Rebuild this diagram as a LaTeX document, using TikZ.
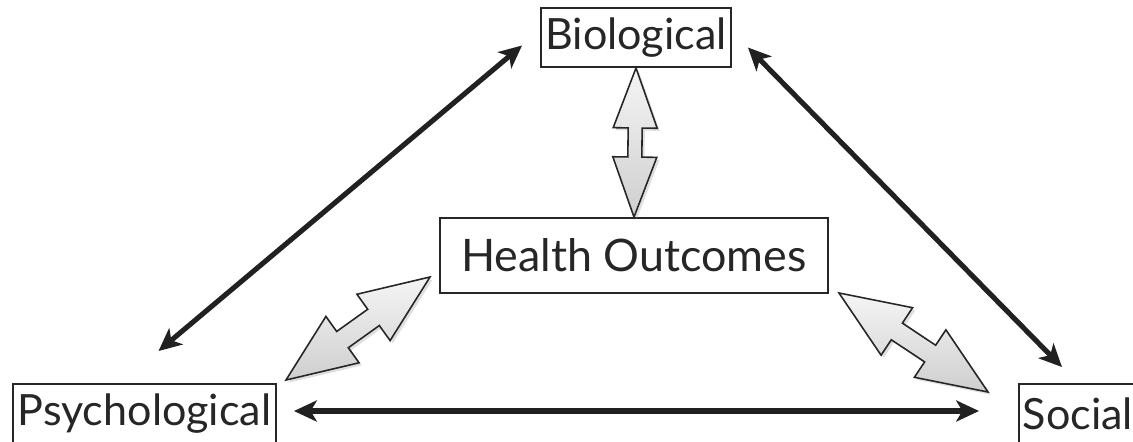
\documentclass[tikz,border=0pt]{standalone}
\usepackage{fontspec}
\setmainfont{Lato}
\usetikzlibrary{arrows.meta,calc,shadows}

% double headed block arrow from #1 to #2
% #3 = half width of head, #4 = head length, #5 = half width of shaft
\newcommand{\blockarrow}[5]{%
\draw [blockarr] (#1)
  -- ($(#1)!#4!(#2)!#3!90:(#2)$) -- ($(#1)!#4!(#2)!#5!90:(#2)$)
  -- ($(#2)!#4!(#1)!#5!-90:(#1)$) -- ($(#2)!#4!(#1)!#3!-90:(#1)$)
  -- (#2)
  -- ($(#2)!#4!(#1)!#3!90:(#1)$) -- ($(#2)!#4!(#1)!#5!90:(#1)$)
  -- ($(#1)!#4!(#2)!#5!-90:(#2)$) -- ($(#1)!#4!(#2)!#3!-90:(#2)$)
  -- cycle;}

\begin{document}
\begin{tikzpicture}[
  box/.style={draw=black!85, line width=1.1pt, inner sep=0pt, text=black!85},
  link/.style={line width=2.9pt, draw=black!87,
    {Stealth[length=13pt,width=12pt,inset=3.5pt]}-{Stealth[length=13pt,width=12pt,inset=3.5pt]}},
  blockarr/.style={draw=black!85, line width=0.9pt, line join=miter,
    top color=gray!8, bottom color=gray!38,
    drop shadow={opacity=0.25, shadow xshift=1.5pt, shadow yshift=-1.5pt}}]
\useasboundingbox (0,0) rectangle (22.66,-8.82);
\clip (0,0) rectangle (22.66,-8.82);

% the four boxes
\node [box, minimum width=3.8cm, minimum height=1.18cm] (bio) at (12.72,-0.75)
  {\fontsize{24.5}{28}\selectfont Biological};
\node [box, minimum width=7.76cm, minimum height=1.5cm] (health) at (12.68,-5.11)
  {\fontsize{25.5}{30}\selectfont Health Outcomes};
\node [box, minimum width=5.26cm, minimum height=1.18cm] (psych) at (2.89,-8.27)
  {\fontsize{24.5}{29}\selectfont Psychological};
\node [box, minimum width=2.36cm, minimum height=1.18cm] (social) at (21.56,-8.27)
  {\fontsize{24.5}{28}\selectfont Social};

% outer triangle
\draw [link] ([xshift=-0.36cm,yshift=-0.16cm]bio.west) -- ([xshift=0.28cm,yshift=0.64cm]psych.north);
\draw [link] ([xshift=0.32cm,yshift=-0.2cm]bio.east) -- ([xshift=-0.32cm,yshift=0.32cm]social.north);
\draw [link] ([xshift=0.34cm,yshift=0.05cm]psych.east) -- ([xshift=-0.78cm,yshift=0.05cm]social.west);

% block arrows to the centre
\blockarrow{bio.south}{health.north}{0.44cm}{1.2cm}{0.14cm}
\blockarrow{$(health.south west)+(-0.18,0.34)$}{$(psych.north east)+(0.18,0.06)$}{0.57cm}{1.39cm}{0.2cm}
\blockarrow{$(health.south east)+(0.2,0.02)$}{$(social.north west)+(-0.6,-0.18)$}{0.57cm}{1.39cm}{0.2cm}
\end{tikzpicture}
\end{document}
